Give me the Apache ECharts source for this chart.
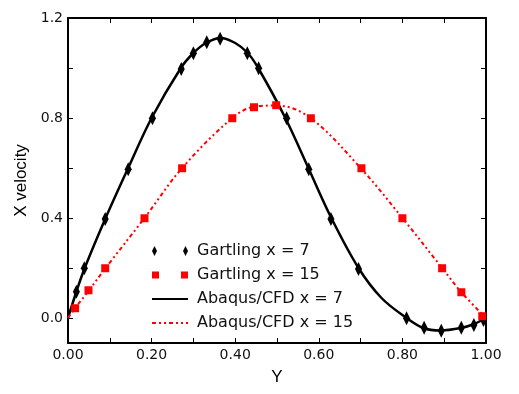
<!DOCTYPE html>
<html>
<head>
<meta charset="utf-8">
<script src="https://cdn.jsdelivr.net/npm/echarts@6/dist/echarts.min.js"></script>
<style>
html,body{margin:0;padding:0;background:#fff;}
#chart{width:519px;height:394px;}
</style>
</head>
<body>
<div id="chart"></div>
<script>
// Gartling reference data, x = 7 (diamonds)
const gartling7X = [0.02, 0.039, 0.089, 0.144, 0.202, 0.271, 0.300, 0.332, 0.364, 0.429, 0.456, 0.523, 0.576, 0.629, 0.695, 0.810, 0.852, 0.893, 0.941, 0.971, 0.994];
const gartling7Y = [0.105, 0.199, 0.396, 0.595, 0.799, 0.996, 1.059, 1.103, 1.117, 1.059, 0.999, 0.799, 0.595, 0.396, 0.196, -0.001, -0.039, -0.051, -0.039, -0.028, -0.008];
// Gartling reference data, x = 15 (squares)
const gartling15X = [0.017, 0.049, 0.089, 0.183, 0.273, 0.393, 0.445, 0.498, 0.581, 0.702, 0.800, 0.895, 0.941, 0.991];
const gartling15Y = [0.039, 0.111, 0.199, 0.399, 0.599, 0.799, 0.843, 0.851, 0.799, 0.599, 0.399, 0.199, 0.103, 0.007];
// Abaqus/CFD curves
const abaqus7X = [0.0, 0.02, 0.04, 0.09, 0.144, 0.20, 0.27, 0.30, 0.33, 0.365, 0.40, 0.43, 0.455, 0.52, 0.575, 0.63, 0.695, 0.75, 0.81, 0.85, 0.89, 0.94, 0.97, 1.0];
const abaqus7Y = [0.0, 0.105, 0.20, 0.40, 0.60, 0.80, 1.0, 1.06, 1.10, 1.12, 1.10, 1.06, 1.0, 0.80, 0.60, 0.40, 0.20, 0.08, 0.0, -0.04, -0.05, -0.04, -0.025, 0.0];
const abaqus15X = [0.0, 0.017, 0.05, 0.09, 0.183, 0.273, 0.393, 0.445, 0.50, 0.58, 0.70, 0.80, 0.895, 0.94, 1.0];
const abaqus15Y = [0.0, 0.04, 0.11, 0.20, 0.40, 0.60, 0.80, 0.845, 0.85, 0.80, 0.60, 0.40, 0.20, 0.105, 0.0];
// Axis ticks
const xTickValues = [0, 0.1, 0.2, 0.3, 0.4, 0.5, 0.6, 0.7, 0.8, 0.9, 1.0];
const xLabelValues = [0, 0.2, 0.4, 0.6, 0.8, 1.0];
const yTickValues = [0, 0.2, 0.4, 0.6, 0.8, 1.0, 1.2];
const yLabelValues = [0, 0.4, 0.8, 1.2];
const seriesNames = ['Gartling x = 7', 'Gartling x = 15', 'Abaqus/CFD x = 7', 'Abaqus/CFD x = 15'];

const zip = (a, b) => a.map((v, i) => [v, b[i]]);

const labelFont = {fontFamily: 'DejaVu Sans', fontSize: 14, color: '#111'};
const tickStyle = {inside: true, length: 5, lineStyle: {color: '#000', width: 1}};
const axisLine = {show: true, onZero: false, lineStyle: {color: '#000', width: 2}};
const hiddenSymbol = {color: 'rgba(0,0,0,0)', borderWidth: 0, opacity: 0};

const chart = echarts.init(document.getElementById('chart'));
chart.setOption({
  animation: false,
  backgroundColor: '#fff',
  grid: {left: 68, top: 18, right: 33, bottom: 51, containLabel: false},
  legend: {
    orient: 'vertical',
    left: 146,
    top: 238,
    itemWidth: 36,
    itemHeight: 10,
    itemGap: 8,
    textStyle: {fontFamily: 'DejaVu Sans', fontSize: 16, color: '#111', padding: [0, 0, 0, 4]},
    data: [
      {name: seriesNames[0], icon: 'path://M0,5L2.5,0L5,5L2.5,10Z M31,5L33.5,0L36,5L33.5,10Z'},
      {name: seriesNames[1], icon: 'path://M0,0M36,10M0,1.5h7v7h-7z M29,1.5h7v7h-7z'},
      {name: seriesNames[2], itemStyle: hiddenSymbol},
      {name: seriesNames[3], itemStyle: hiddenSymbol}
    ]
  },
  xAxis: [{
    type: 'value', position: 'bottom', min: 0, max: 1,
    name: 'Y', nameLocation: 'middle', nameGap: 26,
    nameTextStyle: {fontFamily: 'Liberation Sans', fontSize: 17, color: '#000'},
    axisLine: axisLine,
    axisTick: Object.assign({customValues: xTickValues}, tickStyle),
    axisLabel: Object.assign({customValues: xLabelValues, margin: 5, formatter: v => v.toFixed(2)}, labelFont),
    splitLine: {show: false}
  }, {
    type: 'value', position: 'top', min: 0, max: 1,
    axisLine: axisLine,
    axisTick: Object.assign({customValues: xTickValues}, tickStyle),
    axisLabel: {show: false},
    splitLine: {show: false}
  }],
  yAxis: [{
    type: 'value', position: 'left', min: -0.1, max: 1.2,
    name: 'X velocity', nameLocation: 'middle', nameGap: 38, nameRotate: 90,
    nameTextStyle: {fontFamily: 'Liberation Sans', fontSize: 17, color: '#000'},
    axisLine: axisLine,
    axisTick: Object.assign({customValues: yTickValues}, tickStyle),
    axisLabel: Object.assign({customValues: yLabelValues, margin: 5, formatter: v => v.toFixed(1)}, labelFont),
    splitLine: {show: false}
  }, {
    type: 'value', position: 'right', min: -0.1, max: 1.2,
    axisLine: axisLine,
    axisTick: Object.assign({customValues: yTickValues}, tickStyle),
    axisLabel: {show: false},
    splitLine: {show: false}
  }],
  series: [{
    name: seriesNames[2], type: 'line', smooth: 0.35, symbol: 'none',
    lineStyle: {color: '#000', width: 2.5},
    itemStyle: {color: '#000'},
    data: zip(abaqus7X, abaqus7Y), z: 2
  }, {
    name: seriesNames[3], type: 'line', smooth: 0.35, symbol: 'none',
    lineStyle: {color: '#ff0000', width: 2, type: [4, 3, 2, 3, 2, 3]},
    itemStyle: {color: '#ff0000'},
    data: zip(abaqus15X, abaqus15Y), z: 2
  }, {
    name: seriesNames[0], type: 'scatter', symbol: 'diamond', symbolSize: [7, 14],
    itemStyle: {color: '#000', opacity: 1},
    data: zip(gartling7X, gartling7Y), z: 3
  }, {
    name: seriesNames[1], type: 'scatter', symbol: 'rect', symbolSize: 8,
    itemStyle: {color: '#ff0000', opacity: 1},
    data: zip(gartling15X, gartling15Y), z: 3
  }]
});
</script>
</body>
</html>
